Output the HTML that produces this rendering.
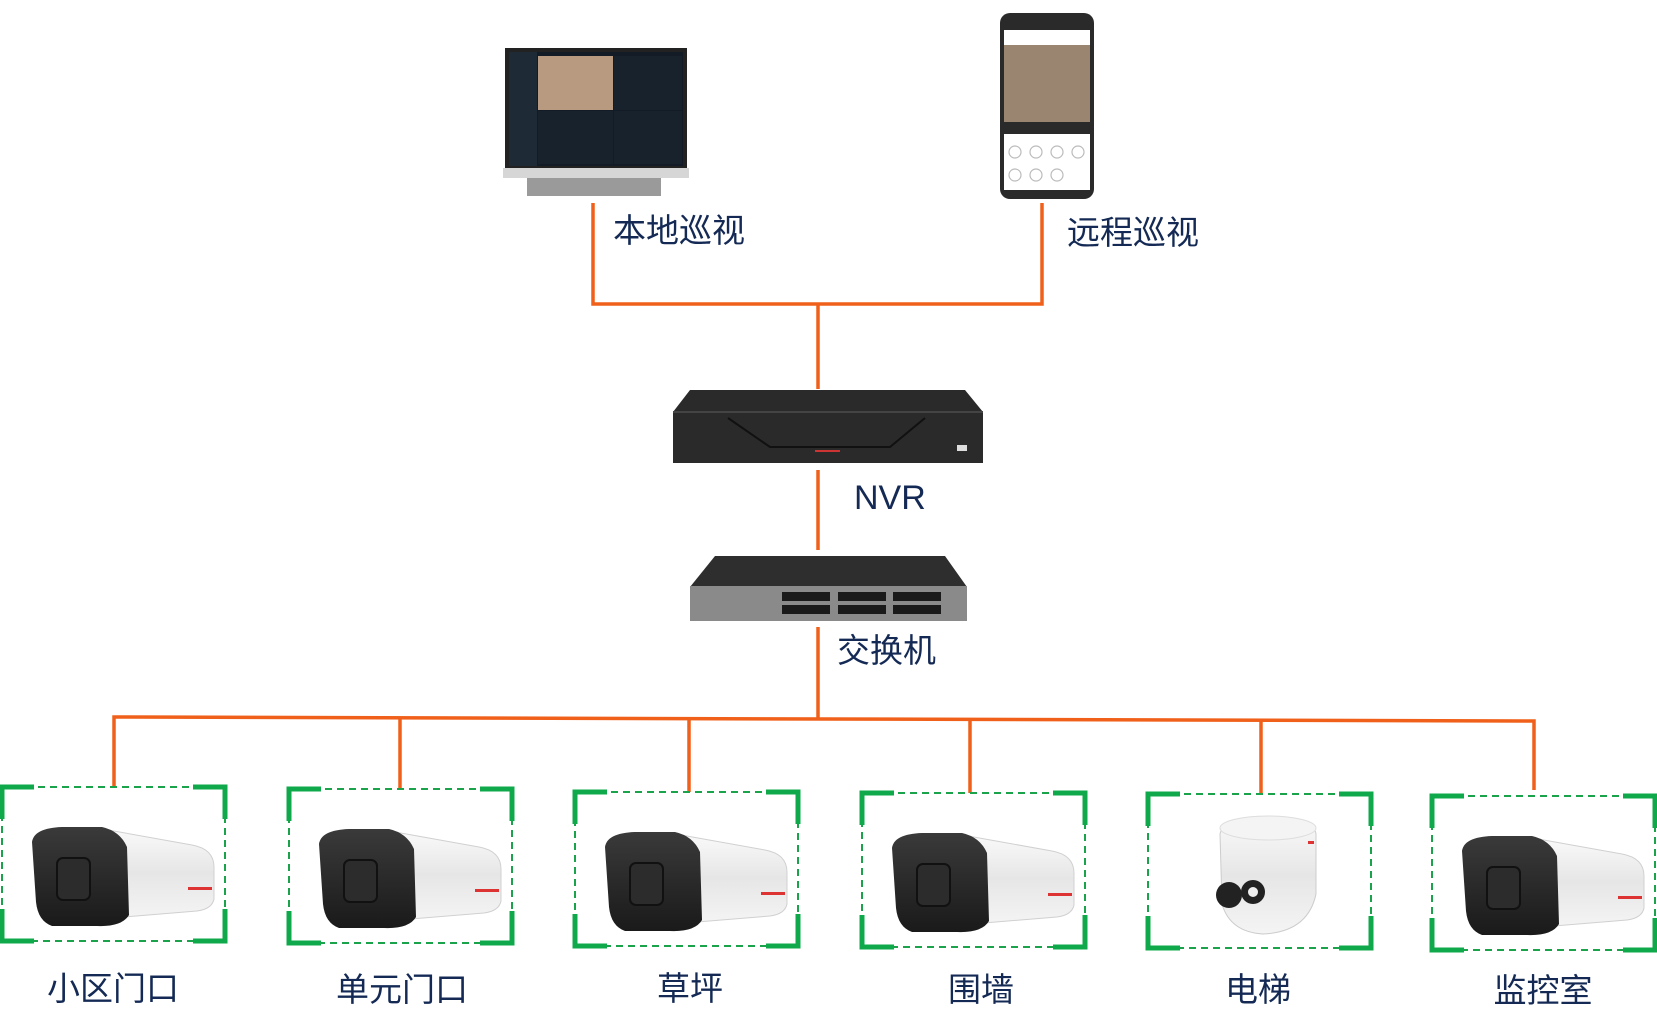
<!DOCTYPE html>
<html><head><meta charset="utf-8"><style>
html,body{margin:0;padding:0;background:#fff;}
svg{display:block;}
text{font-family:"Liberation Sans","Noto Sans CJK SC",sans-serif;fill:#142a55;}
</style></head><body>
<svg width="1657" height="1028" viewBox="0 0 1657 1028" xmlns="http://www.w3.org/2000/svg">
<defs>
<linearGradient id="wg" x1="0" y1="0" x2="0" y2="1"><stop offset="0" stop-color="#fafafa"/><stop offset="0.5" stop-color="#e6e6e6"/><stop offset="1" stop-color="#f4f4f4"/></linearGradient>
<linearGradient id="dg" x1="0" y1="0" x2="0" y2="1"><stop offset="0" stop-color="#3a3a3a"/><stop offset="1" stop-color="#1a1a1a"/></linearGradient>
<g id="bullet">
  <path d="M95,41 L190,58 Q212,62 212,80 L212,112 Q210,122 195,124 L110,131 Z" fill="url(#wg)" stroke="#d0d0d0" stroke-width="1"/>
  <path d="M30,55 Q32,41 60,40 L100,40 Q118,44 125,60 L127,128 Q120,140 95,139 L50,139 Q36,134 34,115 Z" fill="url(#dg)"/>
  <rect x="55" y="71" width="33" height="42" rx="6" fill="#2c2c2c" stroke="#111" stroke-width="2"/>
  <rect x="186" y="100" width="24" height="3" fill="#d33"/>
</g>
<g id="frame" fill="none">
  <rect x="0" y="0" width="223" height="154" stroke="#1aa34a" stroke-width="2" stroke-dasharray="7,5"/>
  <path d="M0,32 V0 H32 M191,0 H223 V32 M223,122 V154 H191 M32,154 H0 V122" stroke="#0fa84a" stroke-width="5"/>
</g>
</defs>

<g stroke="#f0601a" stroke-width="3.5" fill="none">
  <path d="M593,203 V304 H1042 V203"/>
  <path d="M818,304 V389"/>
  <path d="M818,470 V550"/>
  <path d="M818,627 V718"/>
  <path d="M114,788 V717 L1534,721 V790"/>
  <path d="M400,718 V789"/>
  <path d="M689,719 V792"/>
  <path d="M970,719 V793"/>
  <path d="M1261,720 V795"/>
</g>

<rect x="505" y="48" width="182" height="122" fill="#222" />
<rect x="509" y="52" width="174" height="114" fill="#131c26"/>
<rect x="509" y="52" width="28" height="114" fill="#1e2a36"/>
<rect x="538" y="56" width="75" height="54" fill="#b89a80"/>
<rect x="614" y="56" width="68" height="54" fill="#18222c"/>
<rect x="538" y="111" width="75" height="53" fill="#18222c"/>
<rect x="614" y="111" width="68" height="53" fill="#18222c"/>
<rect x="503" y="168" width="186" height="10" fill="#d6d6d6"/>
<rect x="527" y="178" width="134" height="18" fill="#9a9a9a"/>

<rect x="1000" y="13" width="94" height="186" rx="10" fill="#2a2a2a"/>
<rect x="1004" y="30" width="86" height="160" fill="#fff"/>
<rect x="1004" y="45" width="86" height="77" fill="#9a8670"/>
<rect x="1004" y="122" width="86" height="12" fill="#2a2a2a"/>
<g fill="none" stroke="#bbb" stroke-width="1.2">
<circle cx="1015" cy="152" r="6"/><circle cx="1036" cy="152" r="6"/><circle cx="1057" cy="152" r="6"/><circle cx="1078" cy="152" r="6"/>
<circle cx="1015" cy="175" r="6"/><circle cx="1036" cy="175" r="6"/><circle cx="1057" cy="175" r="6"/>
</g>

<path d="M690,390 L965,390 L983,412 L983,463 L673,463 L673,412 Z" fill="#2a2a2a"/>
<path d="M673,412 H983" stroke="#444" stroke-width="2"/>
<path d="M728,418 L770,447 H890 L925,418" stroke="#111" stroke-width="2" fill="none"/>
<rect x="815" y="450" width="25" height="2" fill="#c33"/>
<rect x="957" y="445" width="10" height="6" fill="#ddd"/>

<path d="M715,556 L945,556 L967,587 L690,587 Z" fill="#2e2e2e"/>
<rect x="690" y="586" width="277" height="35" fill="#8a8a8a"/>
<g fill="#1a1a1a">
<rect x="782" y="592" width="48" height="9"/><rect x="782" y="605" width="48" height="9"/>
<rect x="838" y="592" width="48" height="9"/><rect x="838" y="605" width="48" height="9"/>
<rect x="893" y="592" width="48" height="9"/><rect x="893" y="605" width="48" height="9"/>
</g>

<g font-size="33">
<text x="613" y="242">本地巡视</text>
<text x="1067" y="244">远程巡视</text>
<text x="854" y="509" font-size="34">NVR</text>
<text x="837" y="662">交换机</text>
<text x="113" y="1000" text-anchor="middle">小区门口</text>
<text x="402" y="1001" text-anchor="middle">单元门口</text>
<text x="690" y="1000" text-anchor="middle">草坪</text>
<text x="981" y="1001" text-anchor="middle">围墙</text>
<text x="1258" y="1001" text-anchor="middle">电梯</text>
<text x="1543" y="1002" text-anchor="middle">监控室</text>
</g>

<g transform="translate(2,787)"><use href="#frame"/><use href="#bullet"/></g>
<g transform="translate(289,789)"><use href="#frame"/><use href="#bullet"/></g>
<g transform="translate(575,792)"><use href="#frame"/><use href="#bullet"/></g>
<g transform="translate(862,793)"><use href="#frame"/><use href="#bullet"/></g>
<g transform="translate(1148,794)"><use href="#frame"/>
  <path d="M72,40 Q75,24 120,23 Q166,24 168,40 L168,100 Q160,138 115,140 Q82,138 74,110 Z" fill="url(#wg)" stroke="#ccc"/>
  <ellipse cx="120" cy="34" rx="48" ry="12" fill="#f4f4f4" stroke="#ddd"/>
  <circle cx="81" cy="101" r="13" fill="#222"/><circle cx="105" cy="98" r="12" fill="#222"/>
  <circle cx="105" cy="98" r="5" fill="#eee"/>
  <rect x="160" y="47" width="6" height="3" fill="#d33"/>
</g>
<g transform="translate(1432,796)"><use href="#frame"/><use href="#bullet"/></g>
</svg>
</body></html>
